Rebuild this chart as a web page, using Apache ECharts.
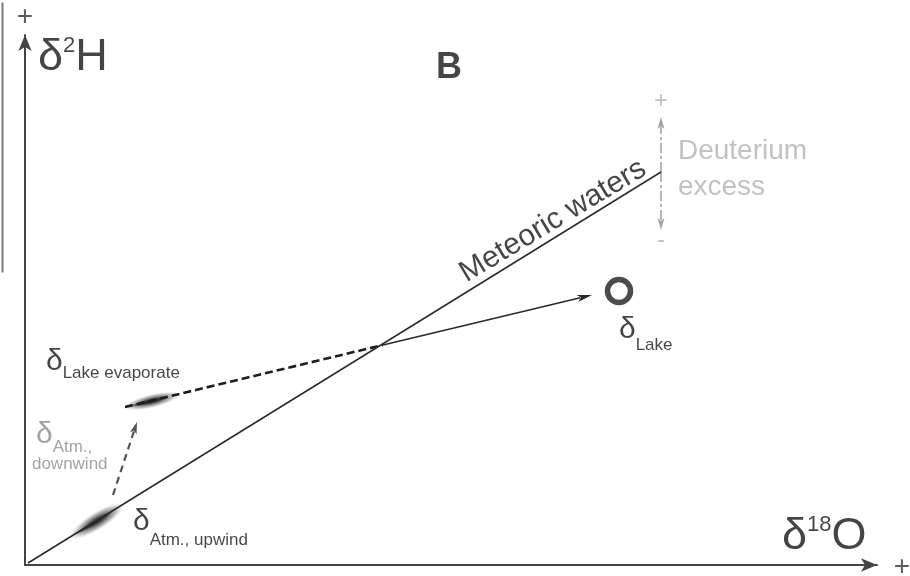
<!DOCTYPE html>
<html>
<head>
<meta charset="utf-8">
<title>δ2H vs δ18O – evaporation schematic</title>
<script src="https://cdn.jsdelivr.net/npm/echarts@6/dist/echarts.min.js"></script>
<style>
  html, body { margin: 0; padding: 0; background: #ffffff; }
  #chart { width: 910px; height: 576px; }
</style>
</head>
<body>
<div id="chart"></div>
<script>
// ---- Values in schematic δ units (δ18O on x, δ2H on y) ----
const xRange = [0, 85.2];
const yRange = [0, 53];

const meteoricWaterLine = [[0.3, 0.2], [63.6, 39.3]];
const lakeWater = [59.4, 27.4];
const evaporationCrossing = [35.8, 22.0];
const lakeArrowTip = [56.7, 27.0];
const evaporateLineStart = [10.0, 15.8];
const lakeEvaporate = [12.7, 16.4];
const atmUpwind = [7.2, 4.4];
const downwindPath = [[8.8, 7.0], [11.2, 14.3]];
const excessBase = [63.6, 39.3];
const excessTop = [63.6, 44.8];
const excessBottom = [63.6, 33.5];

// ---- Text anchors (same units) ----
const anchors = {
  yPlus: [0, 54.8],
  xPlus: [87.7, -0.2],
  yTitle: [1.3, 50.7],
  xTitle: [75.7, 2.8],
  panel: [42.4, 49.7],
  meteoric: [52.8, 34.4],
  excessText: [65.3, 39.6],
  excessPlus: [63.6, 46.4],
  excessMinus: [63.6, 32.5],
  lake: [59.4, 23.5],
  evaporate: [2.1, 20.3],
  downwind: [1.1, 13.0],
  downwindWord: [0.7, 10.1],
  upwind: [10.8, 4.3]
};

const FONT = "'Liberation Sans', Arial, Helvetica, sans-serif";
const INK = '#161616';
const GREY_TEXT = '#8c8c8c';
const LIGHT = '#b3b3b3';

// δ with a subscript; `shift` moves the subscript's centre below the δ centre
function subscripted(sub, shift, color) {
  return {
    formatter: '{d|δ}{s|' + sub + '}',
    rich: {
      d: { fontFamily: FONT, fontSize: 30, lineHeight: 30, color: color },
      s: { fontFamily: FONT, fontSize: 17, lineHeight: 17, color: color,
           padding: [2 * shift, 0, 0, 0] }
    }
  };
}

// δ with a superscript mass number (axis titles)
function superscripted(sup, tail, shift) {
  return {
    formatter: '{d|δ}{u|' + sup + '}{d|' + tail + '}',
    rich: {
      d: { fontFamily: FONT, fontSize: 45, lineHeight: 45, color: INK },
      u: { fontFamily: FONT, fontSize: 22, lineHeight: 22, color: INK,
           padding: [0, 0, 2 * shift, 0] }
    }
  };
}

function textItem(pos, label, align) {
  return {
    value: pos,
    label: Object.assign({
      show: true, position: [0, 0], align: align || 'left', verticalAlign: 'middle'
    }, label)
  };
}

const textData = [
  textItem(anchors.yPlus, { formatter: '+', fontFamily: FONT, fontSize: 28, color: '#333' }, 'center'),
  textItem(anchors.xPlus, { formatter: '+', fontFamily: FONT, fontSize: 28, color: '#333' }, 'center'),
  textItem(anchors.yTitle, superscripted('2', 'H', 12)),
  textItem(anchors.xTitle, superscripted('18', 'O', 12)),
  textItem(anchors.panel, { formatter: 'B', fontFamily: FONT, fontWeight: 'bold', fontSize: 36, color: INK }, 'center'),
  textItem(anchors.meteoric, { formatter: 'Meteoric waters', fontFamily: FONT, fontSize: 30, color: INK, rotate: 31 }, 'center'),
  textItem(anchors.excessText, { formatter: 'Deuterium\nexcess', fontFamily: FONT, fontSize: 28, lineHeight: 36, color: LIGHT }),
  textItem(anchors.excessPlus, { formatter: '+', fontFamily: FONT, fontSize: 24, color: LIGHT }, 'center'),
  textItem(anchors.excessMinus, { formatter: '-', fontFamily: FONT, fontSize: 24, color: LIGHT }, 'center'),
  textItem(anchors.lake, subscripted('Lake', 15, INK)),
  textItem(anchors.evaporate, subscripted('Lake evaporate', 11, INK)),
  textItem(anchors.downwind, subscripted('Atm.,', 12, GREY_TEXT)),
  textItem(anchors.downwindWord, { formatter: 'downwind', fontFamily: FONT, fontSize: 17, color: GREY_TEXT }),
  textItem(anchors.upwind, subscripted('Atm., upwind', 18, INK))
];

// Arrow / connector segments and their drawing styles
const segments = [
  { from: evaporationCrossing, to: lakeArrowTip },
  { from: evaporateLineStart, to: evaporationCrossing },
  { from: downwindPath[0], to: downwindPath[1] },
  { from: excessBase, to: excessTop },
  { from: excessBase, to: excessBottom }
];
const segmentStyles = [
  { stroke: '#2a2a2a', width: 1.6, dash: null, head: [15, 7] },
  { stroke: '#1e1e1e', width: 2.6, dash: [8, 4], head: null },
  { stroke: '#555', width: 2.2, dash: [7, 5], head: [12, 7] },
  { stroke: '#a3a3a3', width: 1.6, dash: [10, 3, 3, 3], head: [12, 7] },
  { stroke: '#a3a3a3', width: 1.6, dash: [10, 3, 3, 3], head: [12, 7] }
];

// Soft isotope "clouds" drawn as blurred ellipses
const clouds = [
  { at: lakeEvaporate, along: [evaporateLineStart, evaporationCrossing] },
  { at: atmUpwind, along: meteoricWaterLine }
];
const cloudStyles = [
  { length: 58, thickness: 14 },
  { length: 64, thickness: 18 }
];

function renderSegment(params, api) {
  const st = segmentStyles[params.dataIndex];
  const p1 = api.coord([api.value(0), api.value(1)]);
  const p2 = api.coord([api.value(2), api.value(3)]);
  const dx = p2[0] - p1[0], dy = p2[1] - p1[1];
  const len = Math.hypot(dx, dy);
  const ux = dx / len, uy = dy / len;
  const children = [];
  let end = p2;
  if (st.head) {
    end = [p2[0] - ux * st.head[0] * 0.8, p2[1] - uy * st.head[0] * 0.8];
  }
  children.push({
    type: 'line',
    shape: { x1: p1[0], y1: p1[1], x2: end[0], y2: end[1] },
    style: { stroke: st.stroke, lineWidth: st.width, lineDash: st.dash, fill: null }
  });
  if (st.head) {
    const hl = st.head[0], hw = st.head[1] / 2;
    const bx = p2[0] - ux * hl, by = p2[1] - uy * hl;
    const nx = p2[0] - ux * hl * 0.75, ny = p2[1] - uy * hl * 0.75;
    children.push({
      type: 'polygon',
      shape: { points: [p2, [bx - uy * hw, by + ux * hw], [nx, ny], [bx + uy * hw, by - ux * hw]] },
      style: { fill: st.stroke }
    });
  }
  return { type: 'group', children: children };
}

function renderCloud(params, api) {
  const st = cloudStyles[params.dataIndex];
  const c = clouds[params.dataIndex];
  const p = api.coord([api.value(0), api.value(1)]);
  const a = api.coord(c.along[0]);
  const b = api.coord(c.along[1]);
  const rot = -Math.atan2(b[1] - a[1], b[0] - a[0]);
  const glow = {
    type: 'radial', x: 0.5, y: 0.5, r: 0.5,
    colorStops: [
      { offset: 0, color: 'rgba(35,35,35,0.95)' },
      { offset: 0.35, color: 'rgba(70,70,70,0.85)' },
      { offset: 0.7, color: 'rgba(125,125,125,0.5)' },
      { offset: 1, color: 'rgba(190,190,190,0)' }
    ]
  };
  const core = {
    type: 'radial', x: 0.5, y: 0.5, r: 0.5,
    colorStops: [
      { offset: 0, color: 'rgba(20,20,20,0.9)' },
      { offset: 0.7, color: 'rgba(40,40,40,0.6)' },
      { offset: 1, color: 'rgba(60,60,60,0)' }
    ]
  };
  return {
    type: 'group', x: p[0], y: p[1], rotation: rot,
    children: [
      { type: 'circle', shape: { cx: 0, cy: 0, r: 1 },
        scaleX: st.length / 2, scaleY: st.thickness / 2, style: { fill: glow } },
      { type: 'circle', shape: { cx: 0, cy: 0, r: 1 }, x: -st.length * 0.05,
        scaleX: st.length * 0.36, scaleY: 2.4, style: { fill: core } }
    ]
  };
}

const axisCommon = {
  type: 'value',
  axisTick: { show: false },
  axisLabel: { show: false },
  splitLine: { show: false }
};

const chart = echarts.init(document.getElementById('chart'), null, { renderer: 'canvas' });
chart.setOption({
  animation: false,
  backgroundColor: '#ffffff',
  grid: { left: 25, right: 33, top: 35, bottom: 11, containLabel: false },
  xAxis: Object.assign({}, axisCommon, {
    min: xRange[0], max: xRange[1],
    axisLine: { show: true, onZero: false, symbol: ['none', 'arrow'], symbolSize: [10, 16],
                lineStyle: { color: '#444', width: 2 } }
  }),
  yAxis: Object.assign({}, axisCommon, {
    min: yRange[0], max: yRange[1],
    axisLine: { show: true, onZero: false, symbol: ['none', 'arrow'], symbolSize: [10, 16],
                lineStyle: { color: '#444', width: 2 } }
  }),
  graphic: [{
    // edge of the neighbouring panel
    type: 'line', left: 0, top: 0,
    shape: { x1: 1, y1: 0, x2: 1, y2: 270 },
    style: { stroke: '#7a7a7a', lineWidth: 2 }
  }],
  series: [
    {
      name: 'Meteoric waters', type: 'line', data: meteoricWaterLine,
      symbol: 'none', silent: true,
      lineStyle: { color: '#2a2a2a', width: 1.5 }
    },
    {
      name: 'clouds', type: 'custom', silent: true,
      data: clouds.map(function (c) { return c.at; }),
      renderItem: renderCloud, z: 1
    },
    {
      name: 'segments', type: 'custom', silent: true,
      data: segments.map(function (s) { return [s.from[0], s.from[1], s.to[0], s.to[1]]; }),
      encode: { x: [0, 2], y: [1, 3] },
      renderItem: renderSegment, z: 3
    },
    {
      name: 'Lake', type: 'scatter', silent: true, data: [lakeWater],
      symbol: 'circle', symbolSize: 23,
      itemStyle: { color: 'rgba(0,0,0,0)', borderColor: '#1e1e1e', borderWidth: 5.5 }, z: 4
    },
    {
      name: 'labels', type: 'scatter', silent: true, clip: false,
      symbolSize: 0.1, itemStyle: { color: 'rgba(0,0,0,0)' },
      data: textData, z: 5
    }
  ]
});
</script>
</body>
</html>
